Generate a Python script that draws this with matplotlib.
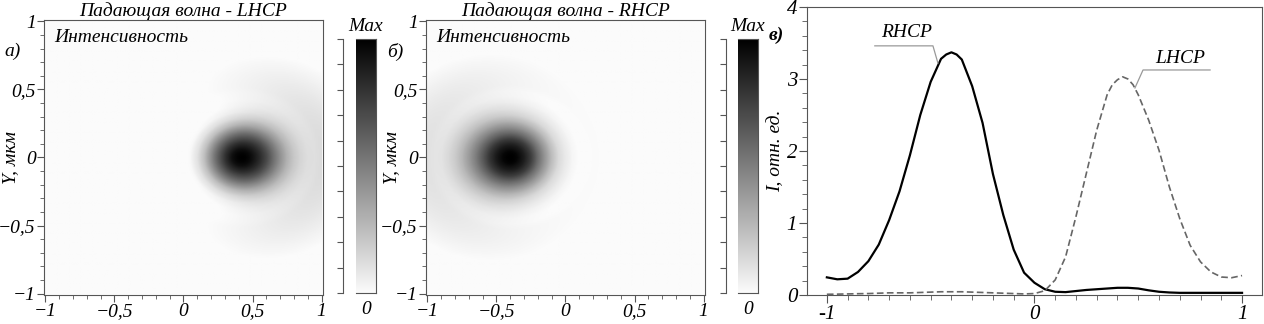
import numpy as np
import matplotlib
matplotlib.use('Agg')
import matplotlib.pyplot as plt
from matplotlib.colors import LinearSegmentedColormap, PowerNorm
from matplotlib.ticker import MultipleLocator, FuncFormatter

plt.rcParams['font.family'] = ['Liberation Serif', 'DejaVu Serif']
plt.rcParams['font.style'] = 'italic'

# profiles along x (y = 0) (в)
x_prof = [-1.0, -0.95, -0.9, -0.85, -0.8, -0.75, -0.7, -0.65, -0.6, -0.55, -0.5,
          -0.45, -0.425, -0.4, -0.375, -0.35, -0.3, -0.25, -0.2, -0.15, -0.1, -0.05, 0.0,
          0.05, 0.1, 0.15, 0.2, 0.25, 0.3, 0.35, 0.375, 0.4, 0.425, 0.45, 0.475, 0.5,
          0.55, 0.6, 0.65, 0.7, 0.75, 0.8, 0.85, 0.9, 0.95, 1.0]
rhcp = [0.245, 0.218, 0.227, 0.32, 0.47, 0.70, 1.04, 1.44, 1.94, 2.50, 2.96,
        3.28, 3.34, 3.37, 3.34, 3.27, 2.90, 2.39, 1.68, 1.11, 0.63, 0.31, 0.17,
        0.08, 0.045, 0.04, 0.055, 0.07, 0.08, 0.09, 0.095, 0.10, 0.10, 0.10, 0.095, 0.09,
        0.065, 0.045, 0.035, 0.03, 0.03, 0.03, 0.03, 0.03, 0.03, 0.03]
lhcp = [0.01, 0.012, 0.015, 0.018, 0.02, 0.025, 0.03, 0.03, 0.03, 0.035, 0.04,
        0.045, 0.045, 0.045, 0.045, 0.045, 0.04, 0.035, 0.03, 0.025, 0.02, 0.015, 0.02,
        0.06, 0.21, 0.53, 1.09, 1.69, 2.29, 2.78, 2.92, 2.99, 3.03, 3.0, 2.92, 2.78,
        2.43, 2.01, 1.50, 1.06, 0.69, 0.46, 0.32, 0.25, 0.24, 0.27]

# spot centres in the intensity maps (from panels а, б)
spot_lhcp = (0.42, 0.0)
spot_rhcp = (-0.40, 0.0)

titles = ['Падающая волна - LHCP', 'Падающая волна - RHCP']
letters = ['а)', 'б)']


def field(prof, centre, n=300):
    # build the 2d map from the measured x-profile around the spot centre
    xp = np.array(x_prof)
    pp = np.array(prof)
    cx, cy = centre
    g = np.linspace(-1, 1, n)
    X, Y = np.meshgrid(g, g)
    dx = X - cx
    dy = (Y - cy) * 1.12
    r = np.hypot(dx, dy) + 1e-9
    far = np.sign(cx)  # side of the spot facing the frame edge
    w = (0.5 * (1 + far * dx / r)) ** 2
    rmax = 1 - abs(cx)
    rc = np.minimum(r, rmax)
    taper = np.exp(-np.clip(r - rmax, 0, None) ** 2 / 0.08)
    p_far = np.interp(cx + far * rc, xp, pp) * taper
    p_near = np.interp(cx - far * rc, xp, pp) * taper
    z = w * p_far + (1 - w) * p_near
    return z / pp.max()


def fmt(v, pos):
    if abs(v) < 1e-9:
        return '0'
    s = ('%g' % v).replace('.', ',')
    return s.replace('-', '\u2212')


cmap = LinearSegmentedColormap.from_list('g', ['#fbfbfb', '#000000'])
spine_c = '#555555'

fig = plt.figure(figsize=(12.64, 3.24), dpi=100)

maps = [field(lhcp, spot_lhcp), field(rhcp, spot_rhcp)]
ax_l = [0.0348, 0.337]
cb_l = [0.2816, 0.5839]
for i in range(2):
    ax = fig.add_axes([ax_l[i], 0.0895, 0.2207, 0.849])
    ax.imshow(maps[i], extent=[-1, 1, -1, 1], origin='lower', cmap=cmap,
              norm=PowerNorm(0.8, 0.015, 1), interpolation='bilinear', aspect='auto')
    ax.set_xlim(-1.01, 1.01)
    ax.set_ylim(-1.01, 1.01)
    for s in ax.spines.values():
        s.set_color(spine_c)
    ax.xaxis.set_major_locator(MultipleLocator(0.5))
    ax.xaxis.set_minor_locator(MultipleLocator(0.1))
    ax.yaxis.set_major_locator(MultipleLocator(0.5))
    ax.yaxis.set_minor_locator(MultipleLocator(0.1))
    ax.xaxis.set_major_formatter(FuncFormatter(fmt))
    ax.yaxis.set_major_formatter(FuncFormatter(fmt))
    ax.tick_params(which='major', direction='out', length=5, width=0.8,
                   color=spine_c, labelsize=14, pad=1)
    ax.tick_params(which='minor', direction='out', length=3, width=0.6, color=spine_c)
    ax.set_title(titles[i], fontsize=14, pad=1)
    ax.text(0.035, 0.935, 'Интенсивность', transform=ax.transAxes, fontsize=14,
            ha='left', va='center')

    # colour bar
    cax = fig.add_axes([cb_l[i], 0.0957, 0.0158, 0.784])
    grad = np.linspace(0, 0.82, 256).reshape(-1, 1)
    cax.imshow(grad, origin='lower', cmap=cmap, aspect='auto', extent=[0, 1, 0, 1])
    cax.set_xticks([])
    cax.set_yticks(np.linspace(0, 1, 11))
    cax.yaxis.set_ticklabels([])
    cax.spines['left'].set_position(('outward', 9))
    for s in cax.spines.values():
        s.set_color(spine_c)
    cax.tick_params(axis='y', direction='out', length=4, color=spine_c, width=0.8)
    cax.text(0.5, 1.015, 'Max', transform=cax.transAxes, ha='center', va='bottom', fontsize=14)
    cax.text(0.5, -0.03, '0', transform=cax.transAxes, ha='center', va='top', fontsize=14)

fig.text(0.0103, 0.84, letters[0], fontsize=14, ha='center', va='center')
fig.text(0.3125, 0.84, letters[1], fontsize=14, ha='center', va='center')
fig.text(0.0085, 0.515, 'Y, мкм', fontsize=14, rotation=90, ha='center', va='center')
fig.text(0.3095, 0.515, 'Y, мкм', fontsize=14, rotation=90, ha='center', va='center')

# panel в: profiles
ax = fig.add_axes([0.6384, 0.0895, 0.36, 0.889])
ax.plot(x_prof, rhcp, color='black', lw=1.6, solid_joinstyle='round')
ax.plot(x_prof, lhcp, color='#666666', lw=1.2, dashes=(4, 2))
ax.set_xlim(-1.096, 1.096)
ax.set_ylim(0, 4)
for s in ax.spines.values():
    s.set_color(spine_c)
ax.xaxis.set_major_locator(MultipleLocator(1))
ax.xaxis.set_minor_locator(MultipleLocator(0.1))
ax.yaxis.set_major_locator(MultipleLocator(1))
ax.yaxis.set_minor_locator(MultipleLocator(0.2))
ax.xaxis.set_major_formatter(FuncFormatter(lambda v, p: '%d' % v))
ax.tick_params(which='major', direction='out', length=6, width=0.8,
               color=spine_c, labelsize=15, pad=1)
ax.tick_params(which='minor', direction='out', length=3.5, width=0.6, color=spine_c)
ax.set_ylabel('I, отн. ед.', fontsize=14, labelpad=2)

lead = '#999999'
ax.plot([-0.769, -0.489, -0.465], [3.46, 3.46, 3.22], color=lead, lw=0.9)
ax.text(-0.614, 3.64, 'RHCP', ha='center', va='center', fontsize=14)
ax.plot([0.846, 0.523, 0.484], [3.125, 3.125, 2.875], color=lead, lw=0.9)
ax.text(0.701, 3.28, 'LHCP', ha='center', va='center', fontsize=14)
fig.text(0.614, 0.89, 'в)', fontsize=14, weight='bold', ha='center', va='center')

fig.savefig('out.png', dpi=100)
